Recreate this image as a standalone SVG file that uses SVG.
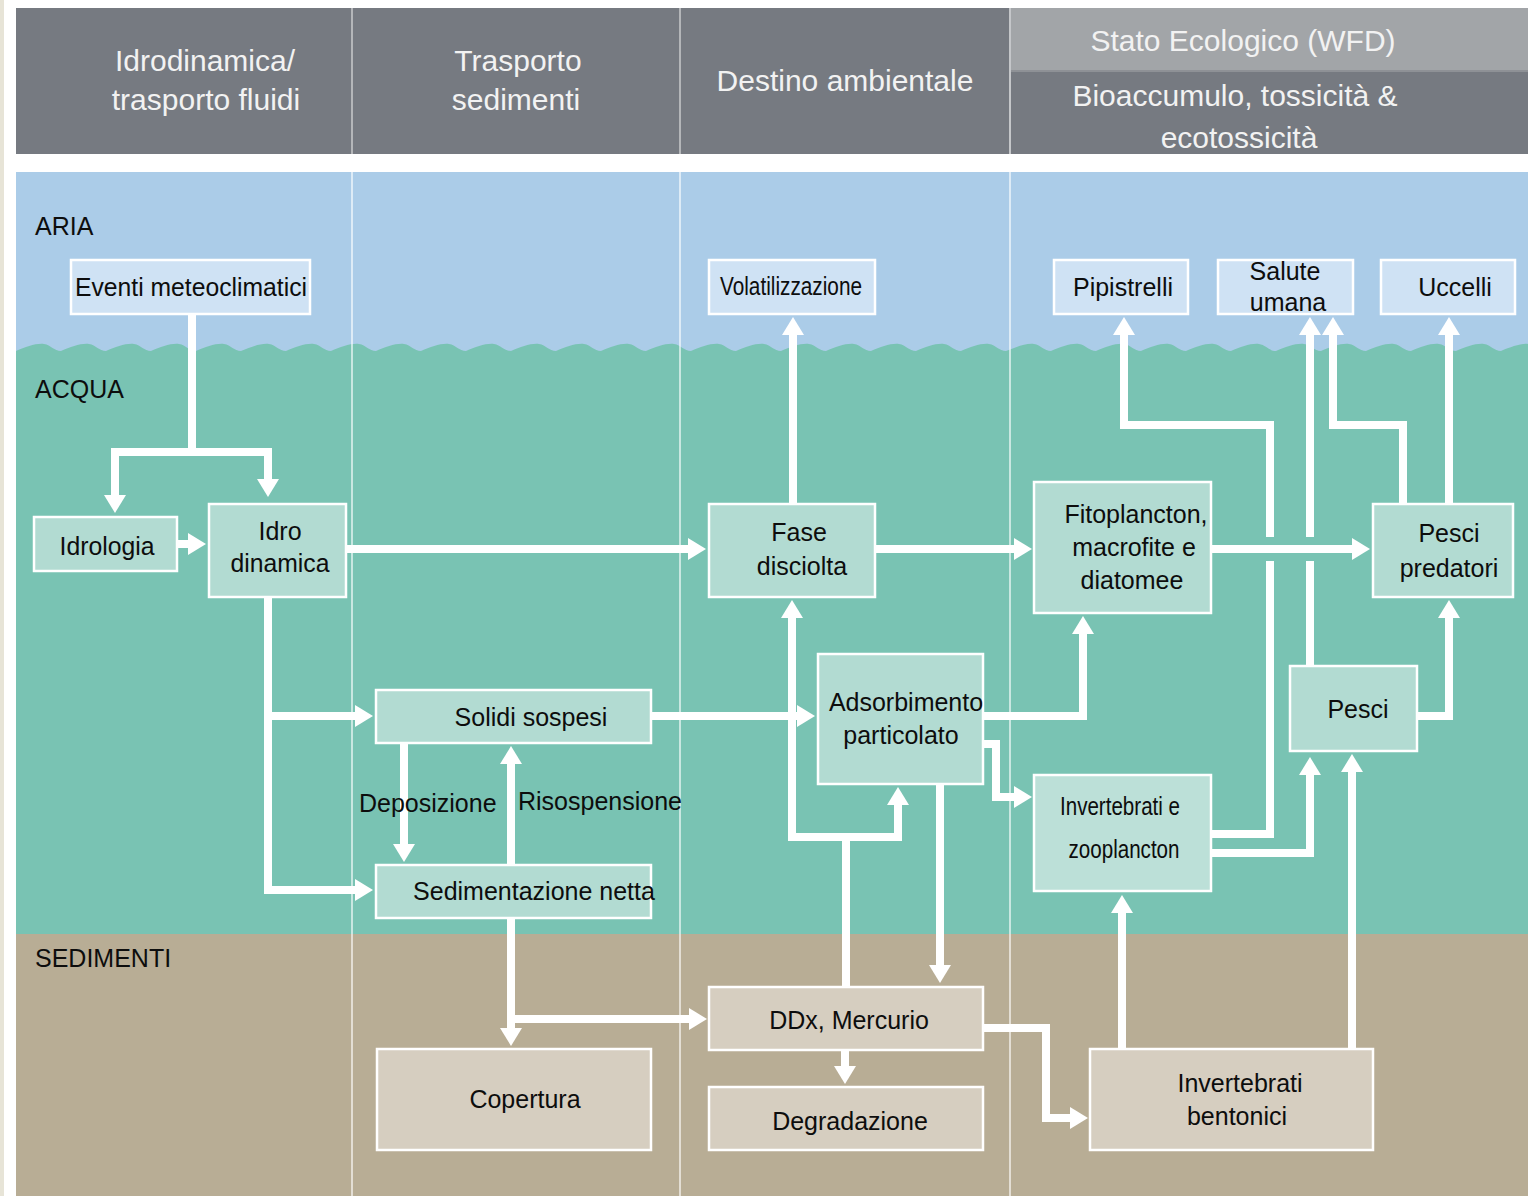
<svg xmlns="http://www.w3.org/2000/svg" width="1528" height="1196" viewBox="0 0 1528 1196">
<style>
.hd{fill:#767a81}
.hl{fill:#a2a5a8}
.ht{font-family:"Liberation Sans",Arial,sans-serif;font-size:30px;fill:#f2f2f2;text-anchor:middle}
.n{stroke:#ffffff;stroke-width:2.5}
.na{fill:#cfe2f4}
.nw{fill:#b2dbd2}
.ns{fill:#d6cec0}
.t{font-family:"Liberation Sans",Arial,sans-serif;font-size:25px;fill:#0d0d0d;text-anchor:middle}
.lb{font-family:"Liberation Sans",Arial,sans-serif;font-size:25px;fill:#0d0d0d}
.c{fill:none;stroke:#ffffff;stroke-width:8;stroke-linejoin:miter}
.a{marker-end:url(#ar)}
.div{stroke:#ffffff;stroke-opacity:0.6;stroke-width:2}
</style>
<defs>
<marker id="ar" markerUnits="userSpaceOnUse" markerWidth="18" markerHeight="22" refX="1" refY="11" orient="auto" viewBox="0 0 18 22">
<path d="M0,0 L18,11 L0,22 Z" fill="#ffffff"/>
</marker>
</defs>
<rect x="0" y="0" width="1528" height="1196" fill="#ffffff"/>
<rect x="0" y="0" width="4" height="1196" fill="#e7e4d7"/>
<!-- header -->
<g id="header">
<rect class="hd" x="16" y="8" width="1512" height="146"/>
<rect class="hl" x="1010" y="8" width="518" height="63"/>
<line x1="1010" y1="71" x2="1528" y2="71" stroke="#8e9196" stroke-width="2"/>
<line x1="352" y1="8" x2="352" y2="154" stroke="#b4b6b9" stroke-width="2"/>
<line x1="680" y1="8" x2="680" y2="154" stroke="#b4b6b9" stroke-width="2"/>
<line x1="1010" y1="8" x2="1010" y2="154" stroke="#c4c6c9" stroke-width="2"/>
<text class="ht" x="205" y="71">Idrodinamica/</text>
<text class="ht" x="206" y="110">trasporto fluidi</text>
<text class="ht" x="518" y="71">Trasporto</text>
<text class="ht" x="516" y="110">sedimenti</text>
<text class="ht" x="845" y="91">Destino ambientale</text>
<text class="ht" x="1243" y="51">Stato Ecologico (WFD)</text>
<text class="ht" x="1235" y="106">Bioaccumulo, tossicità &amp;</text>
<text class="ht" x="1239" y="148">ecotossicità</text>
</g>
<!-- layers -->
<g id="layers">
<rect x="16" y="172" width="1512" height="200" fill="#abcce8"/>
<path fill="#79c3b3" d="M16,351 c10,-4 20,-8 28,-7 c7,1 10,7 17,7 c10,-4 20,-8 28,-7 c7,1 10,7 17,7 c10,-4 20,-8 28,-7 c7,1 10,7 17,7 c10,-4 20,-8 28,-7 c7,1 10,7 17,7 c10,-4 20,-8 28,-7 c7,1 10,7 17,7 c10,-4 20,-8 28,-7 c7,1 10,7 17,7 c10,-4 20,-8 28,-7 c7,1 10,7 17,7 c10,-4 20,-8 28,-7 c7,1 10,7 17,7 c10,-4 20,-8 28,-7 c7,1 10,7 17,7 c10,-4 20,-8 28,-7 c7,1 10,7 17,7 c10,-4 20,-8 28,-7 c7,1 10,7 17,7 c10,-4 20,-8 28,-7 c7,1 10,7 17,7 c10,-4 20,-8 28,-7 c7,1 10,7 17,7 c10,-4 20,-8 28,-7 c7,1 10,7 17,7 c10,-4 20,-8 28,-7 c7,1 10,7 17,7 c10,-4 20,-8 28,-7 c7,1 10,7 17,7 c10,-4 20,-8 28,-7 c7,1 10,7 17,7 c10,-4 20,-8 28,-7 c7,1 10,7 17,7 c10,-4 20,-8 28,-7 c7,1 10,7 17,7 c10,-4 20,-8 28,-7 c7,1 10,7 17,7 c10,-4 20,-8 28,-7 c7,1 10,7 17,7 c10,-4 20,-8 28,-7 c7,1 10,7 17,7 c10,-4 20,-8 28,-7 c7,1 10,7 17,7 c10,-4 20,-8 28,-7 c7,1 10,7 17,7 c10,-4 20,-8 28,-7 c7,1 10,7 17,7 c10,-4 20,-8 28,-7 c7,1 10,7 17,7 c10,-4 20,-8 28,-7 c7,1 10,7 17,7 c10,-4 20,-8 28,-7 c7,1 10,7 17,7 c10,-4 20,-8 28,-7 c7,1 10,7 17,7 c10,-4 20,-8 28,-7 c7,1 10,7 17,7 c10,-4 20,-8 28,-7 c7,1 10,7 17,7 c10,-4 20,-8 28,-7 c7,1 10,7 17,7 c10,-4 20,-8 28,-7 c7,1 10,7 17,7 c10,-4 20,-8 28,-7 c7,1 10,7 17,7 L1560,351 V934 H16 Z"/>
<rect x="16" y="934" width="1512" height="262" fill="#b8ad95"/>
<line class="div" x1="352" y1="172" x2="352" y2="1196" stroke-opacity="0.85"/>
<line class="div" x1="680" y1="172" x2="680" y2="1196" stroke-width="1.5"/>
<line class="div" x1="1010" y1="172" x2="1010" y2="1196" stroke-width="1.5"/>
<text class="lb" x="35" y="235">ARIA</text>
<text class="lb" x="35" y="398">ACQUA</text>
<text class="lb" x="35" y="967">SEDIMENTI</text>
</g>
<!-- connectors -->
<g id="connectors">
<path class="c a" d="M192,314 V452 H115 V496"/>
<path class="c a" d="M192,452 H268 V480"/>
<path class="c a" d="M177,544 H189"/>
<path class="c a" d="M346,549 H689"/>
<path class="c a" d="M268,597 V890 H356"/>
<path class="c a" d="M268,716 H356"/>
<path class="c a" d="M404,743 V845"/>
<path class="c a" d="M511,865 V763"/>
<path class="c a" d="M651,716 H798"/>
<path class="c a" d="M511,918 V1029"/>
<path class="c a" d="M511,1019 H690"/>
<path class="c a" d="M846,987 V837 H792 V617"/>
<path class="c a" d="M846,837 H898 V804"/>
<path class="c a" d="M940,784 V966"/>
<path class="c a" d="M845,1050 V1067"/>
<path class="c a" d="M875,549 H1015"/>
<path class="c a" d="M793,504 V334"/>
<path class="c a" d="M983,716 H1083 V633"/>
<path class="c a" d="M983,744 H996 V797 H1015"/>
<path class="c a" d="M1211,834 H1270 V425 H1124 V334"/>
<path class="c a" d="M1211,853 H1310 V774"/>
<path class="c a" d="M1310,666 V334"/>
<path class="c a" d="M1403,504 V425 H1333 V334"/>
<path class="c a" d="M1449,504 V334"/>
<path class="c a" d="M1417,716 H1449 V617"/>
<path class="c a" d="M1122,1049 V912"/>
<path class="c a" d="M1352,1049 V771"/>
<path class="c a" d="M983,1028 H1046 V1118 H1071"/>
<path d="M1213,549 H1353" fill="none" stroke="#79c3b3" stroke-width="24"/>
<path class="c a" d="M1211,549 H1353"/>
</g>
<!-- nodes -->
<g id="n-eventi"><rect class="n na" x="71" y="260" width="239" height="54"/><text class="t" x="191" y="296" textLength="232" lengthAdjust="spacingAndGlyphs">Eventi meteoclimatici</text></g>
<g id="n-volatilizzazione"><rect class="n na" x="709" y="260" width="166" height="54"/><text class="t" x="791" y="295" font-size="24" textLength="142" lengthAdjust="spacingAndGlyphs">Volatilizzazione</text></g>
<g id="n-pipistrelli"><rect class="n na" x="1054" y="260" width="134" height="54"/><text class="t" x="1123" y="296">Pipistrelli</text></g>
<g id="n-salute"><rect class="n na" x="1218" y="260" width="135" height="54"/><text class="t" x="1285" y="280">Salute</text><text class="t" x="1288" y="311">umana</text></g>
<g id="n-uccelli"><rect class="n na" x="1381" y="260" width="134" height="54"/><text class="t" x="1455" y="296">Uccelli</text></g>
<g id="n-idrologia"><rect class="n nw" x="34" y="517" width="143" height="54"/><text class="t" x="107" y="555" textLength="95" lengthAdjust="spacingAndGlyphs">Idrologia</text></g>
<g id="n-idrodinamica"><rect class="n nw" x="209" y="504" width="137" height="93"/><text class="t" x="280" y="540">Idro</text><text class="t" x="280" y="572" textLength="99" lengthAdjust="spacingAndGlyphs">dinamica</text></g>
<g id="n-fase"><rect class="n nw" x="709" y="504" width="166" height="93"/><text class="t" x="799" y="541">Fase</text><text class="t" x="802" y="575">disciolta</text></g>
<g id="n-fito"><rect class="n nw" x="1034" y="482" width="177" height="131"/><text class="t" x="1136" y="523">Fitoplancton,</text><text class="t" x="1134" y="556">macrofite e</text><text class="t" x="1132" y="589">diatomee</text></g>
<g id="n-pescipred"><rect class="n nw" x="1373" y="504" width="140" height="93"/><text class="t" x="1449" y="542">Pesci</text><text class="t" x="1449" y="577">predatori</text></g>
<g id="n-solidi"><rect class="n nw" x="376" y="690" width="275" height="53"/><text class="t" x="531" y="726">Solidi sospesi</text></g>
<g id="n-adsorbimento"><rect class="n nw" x="818" y="654" width="165" height="130"/><text class="t" x="906" y="711">Adsorbimento</text><text class="t" x="901" y="744">particolato</text></g>
<g id="n-pesci"><rect class="n nw" x="1290" y="666" width="127" height="85"/><text class="t" x="1358" y="718">Pesci</text></g>
<g id="n-invzoo"><rect class="n" fill="#bce0d8" x="1034" y="775" width="177" height="116"/><text class="t" x="1120" y="815" font-size="24" textLength="120" lengthAdjust="spacingAndGlyphs">Invertebrati e</text><text class="t" x="1124" y="858" font-size="24" textLength="111" lengthAdjust="spacingAndGlyphs">zooplancton</text></g>
<g id="n-sedimentazione"><rect class="n nw" x="376" y="865" width="275" height="53"/><text class="t" x="534" y="900">Sedimentazione netta</text></g>
<g id="n-ddx"><rect class="n ns" x="709" y="987" width="274" height="63"/><text class="t" x="849" y="1029">DDx, Mercurio</text></g>
<g id="n-copertura"><rect class="n ns" x="377" y="1049" width="274" height="101"/><text class="t" x="525" y="1108">Copertura</text></g>
<g id="n-degradazione"><rect class="n ns" x="709" y="1087" width="274" height="63"/><text class="t" x="850" y="1130">Degradazione</text></g>
<g id="n-invbent"><rect class="n ns" x="1090" y="1049" width="283" height="101"/><text class="t" x="1240" y="1092">Invertebrati</text><text class="t" x="1237" y="1125">bentonici</text></g>
<g id="labels">
<text class="lb" x="359" y="812">Deposizione</text>
<text class="lb" x="518" y="810">Risospensione</text>
</g>
</svg>
